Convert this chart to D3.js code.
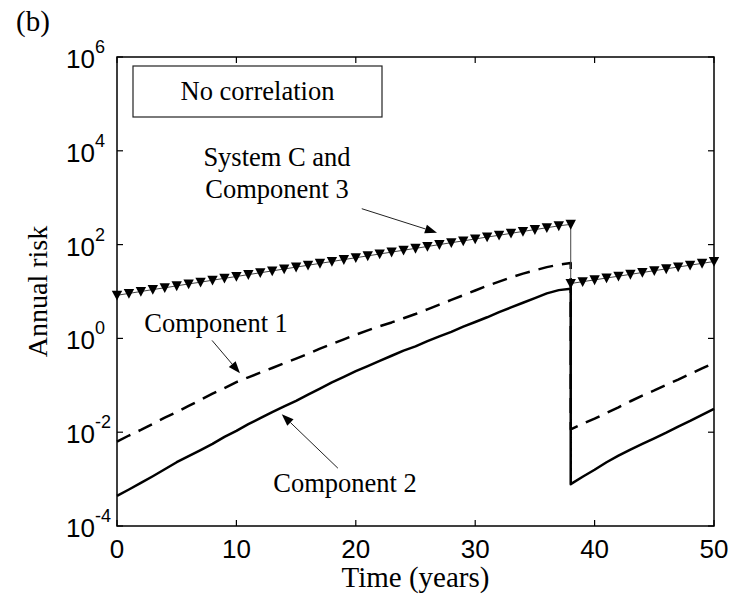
<!DOCTYPE html>
<html>
<head>
<meta charset="utf-8">
<script src="https://cdn.jsdelivr.net/npm/d3@7"></script>
<style>
  body { margin: 0; background: #fff; }
  svg { display: block; }
</style>
</head>
<body>
<svg id="chart" width="740" height="603"></svg>
<script>
// Time (years): the first service period ends with a repair at year 38,
// after which every curve restarts from a lower level.
const yearsBefore = d3.range(0, 39);
const yearsAfter = d3.range(38, 51);

// System C and Component 3 (annual risk)
const systemCBefore = [8.3, 9.1, 10.0, 11.0, 12.0, 13.2, 14.5, 15.8, 17.4, 19.1,
  20.9, 22.9, 25.1, 27.5, 30.2, 33.1, 36.3, 39.8, 43.6, 47.9,
  52.5, 57.5, 63.1, 69.2, 75.9, 83.2, 91.2, 100, 110, 120,
  132, 145, 158, 174, 191, 209, 229, 251, 270];
const systemCAfter = [14.8, 16.2, 17.7, 19.4, 21.2, 23.2, 25.4, 27.8, 30.4, 33.3, 36.4, 39.8, 43.6];

// Component 1 (annual risk)
const comp1Before = [6.3e-3, 8.5e-3, 1.12e-2, 1.51e-2, 2.04e-2, 2.69e-2, 3.63e-2, 4.90e-2, 6.61e-2, 8.71e-2,
  0.117, 0.148, 0.186, 0.234, 0.295, 0.372, 0.468, 0.603, 0.759, 0.955,
  1.20, 1.48, 1.82, 2.19, 2.69, 3.31, 4.17, 5.25, 6.61, 8.32,
  10.5, 13.2, 16.2, 20.0, 24.0, 28.2, 33.1, 37.2, 40.7];
const comp1After = [1.15e-2, 1.51e-2, 1.95e-2, 2.57e-2, 3.39e-2, 4.57e-2, 6.03e-2, 7.76e-2, 0.102, 0.132, 0.174, 0.229, 0.302];

// Component 2 (annual risk)
const comp2Before = [4.4e-4, 6.0e-4, 8.3e-4, 1.15e-3, 1.62e-3, 2.29e-3, 3.09e-3, 4.17e-3, 5.62e-3, 7.94e-3,
  1.07e-2, 1.48e-2, 2.0e-2, 2.69e-2, 3.55e-2, 4.68e-2, 6.31e-2, 8.51e-2, 0.115, 0.151,
  0.200, 0.257, 0.331, 0.427, 0.550, 0.676, 0.871, 1.10, 1.38, 1.78,
  2.24, 2.82, 3.63, 4.57, 5.75, 7.24, 9.12, 10.7, 11.5];
const comp2After = [7.8e-4, 1.12e-3, 1.58e-3, 2.29e-3, 3.16e-3, 4.27e-3, 5.62e-3, 7.41e-3, 9.77e-3, 1.32e-2, 1.74e-2, 2.34e-2, 3.16e-2];

const xTicks = [0, 10, 20, 30, 40, 50];
const yTickExponents = [-4, -2, 0, 2, 4, 6];

// Callouts: text anchor, arrow tail and arrow tip, all in data units (year, risk)
const callouts = [
  { lines: ["System C and", "Component 3"], text: [13.4, 4800], lineGap: 32,
    tail: [20.5, 583], tip: [26.8, 180] },
  { lines: ["Component 1"], text: [8.3, 1.34], lineGap: 0,
    tail: [7.96, 0.906], tip: [10.3, 0.18] },
  { lines: ["Component 2"], text: [19.1, 5.3e-4], lineGap: 0,
    tail: [18.5, 1.71e-3], tip: [13.8, 0.0242] }
];

const svg = d3.select("#chart");
const plot = { left: 117, right: 714, top: 57, bottom: 526 };

const x = d3.scaleLinear().domain([0, 50]).range([plot.left, plot.right]);
const y = d3.scaleLog().domain([1e-4, 1e6]).range([plot.bottom, plot.top]);

const toPoints = (ts, vs) => ts.map((t, i) => ({ t, v: vs[i] }));
const seriesPoints = (tb, vb, ta, va) => toPoints(tb, vb).concat(toPoints(ta, va));

const line = d3.line().x(d => x(d.t)).y(d => y(d.v));

const comp1 = seriesPoints(yearsBefore, comp1Before, yearsAfter, comp1After);
const comp2 = seriesPoints(yearsBefore, comp2Before, yearsAfter, comp2After);
const sysC = seriesPoints(yearsBefore, systemCBefore, yearsAfter, systemCAfter);

const g = svg.append("g");

g.append("path").datum(comp1)
  .attr("d", line).attr("fill", "none").attr("stroke", "#000")
  .attr("stroke-width", 2.5).attr("stroke-dasharray", "15,9")
  .attr("stroke-linejoin", "round");

g.append("path").datum(comp2)
  .attr("d", line).attr("fill", "none").attr("stroke", "#000")
  .attr("stroke-width", 2.5).attr("stroke-linejoin", "round");

g.append("path").datum(sysC)
  .attr("d", line).attr("fill", "none").attr("stroke", "#444")
  .attr("stroke-width", 1);

// Downward-pointing triangle markers, one per year
g.selectAll("path.marker").data(sysC).join("path")
  .attr("class", "marker")
  .attr("transform", d => `translate(${x(d.t)},${y(d.v)})`)
  .attr("d", "M-5.2,-4.5L5.2,-4.5L0,5.3Z")
  .attr("fill", "#000");

// Axes with inward ticks on all four sides
const tickLen = 6;
const axes = svg.append("g").attr("stroke", "#000").attr("stroke-width", 1.2);
xTicks.forEach(t => {
  axes.append("line").attr("x1", x(t)).attr("x2", x(t))
    .attr("y1", plot.bottom).attr("y2", plot.bottom - tickLen);
  axes.append("line").attr("x1", x(t)).attr("x2", x(t))
    .attr("y1", plot.top).attr("y2", plot.top + tickLen);
});
yTickExponents.forEach(e => {
  const yy = y(Math.pow(10, e));
  axes.append("line").attr("x1", plot.left).attr("x2", plot.left + tickLen)
    .attr("y1", yy).attr("y2", yy);
  axes.append("line").attr("x1", plot.right).attr("x2", plot.right - tickLen)
    .attr("y1", yy).attr("y2", yy);
});
svg.append("rect")
  .attr("x", plot.left).attr("y", plot.top)
  .attr("width", plot.right - plot.left).attr("height", plot.bottom - plot.top)
  .attr("fill", "none").attr("stroke", "#000").attr("stroke-width", 1.5);

const sans = "'Liberation Sans', Arial, Helvetica, sans-serif";
const serif = "'Liberation Serif', 'Times New Roman', Times, serif";

// X tick labels
svg.append("g").selectAll("text").data(xTicks).join("text")
  .attr("x", d => x(d)).attr("y", plot.bottom + 32)
  .attr("text-anchor", "middle")
  .attr("font-family", sans).attr("font-size", 26)
  .text(d => d);

// Y tick labels as powers of ten
const yLab = svg.append("g").selectAll("text").data(yTickExponents).join("text")
  .attr("x", 66).attr("y", d => y(Math.pow(10, d)) + 11)
  .attr("font-family", sans).attr("font-size", 26);
yLab.append("tspan").text("10");
yLab.append("tspan").attr("dy", -15).attr("font-size", 18).text(d => d);

// Axis titles
svg.append("text")
  .attr("x", (plot.left + plot.right) / 2).attr("y", 587)
  .attr("text-anchor", "middle")
  .attr("font-family", serif).attr("font-size", 29)
  .text("Time (years)");

svg.append("text")
  .attr("transform", `translate(47,${(plot.top + plot.bottom) / 2}) rotate(-90)`)
  .attr("text-anchor", "middle")
  .attr("font-family", serif).attr("font-size", 28)
  .text("Annual risk");

// Panel label
svg.append("text").attr("x", 16).attr("y", 31)
  .attr("font-family", serif).attr("font-size", 29).text("(b)");

// Legend box
svg.append("rect").attr("x", 133).attr("y", 66).attr("width", 249).attr("height", 51)
  .attr("fill", "#fff").attr("stroke", "#222").attr("stroke-width", 1.2);
svg.append("text").attr("x", 257.5).attr("y", 100)
  .attr("text-anchor", "middle")
  .attr("font-family", serif).attr("font-size", 26.5)
  .text("No correlation");

// Callout text and arrows
const ann = svg.append("g");
callouts.forEach(c => {
  const tx = x(c.text[0]);
  const ty = y(c.text[1]);
  c.lines.forEach((s, i) => {
    ann.append("text").attr("x", tx).attr("y", ty + i * c.lineGap)
      .attr("text-anchor", "middle")
      .attr("font-family", serif).attr("font-size", 26.5)
      .text(s);
  });
  const x0 = x(c.tail[0]), y0 = y(c.tail[1]);
  const x1 = x(c.tip[0]), y1 = y(c.tip[1]);
  const ang = Math.atan2(y1 - y0, x1 - x0);
  const headLen = 12, headHalf = 4.5;
  const bx = x1 - headLen * Math.cos(ang), by = y1 - headLen * Math.sin(ang);
  ann.append("line").attr("x1", x0).attr("y1", y0).attr("x2", bx).attr("y2", by)
    .attr("stroke", "#222").attr("stroke-width", 1);
  const px = -Math.sin(ang) * headHalf, py = Math.cos(ang) * headHalf;
  ann.append("path")
    .attr("d", `M${x1},${y1}L${bx + px},${by + py}L${bx - px},${by - py}Z`)
    .attr("fill", "#000");
});
</script>
</body>
</html>
